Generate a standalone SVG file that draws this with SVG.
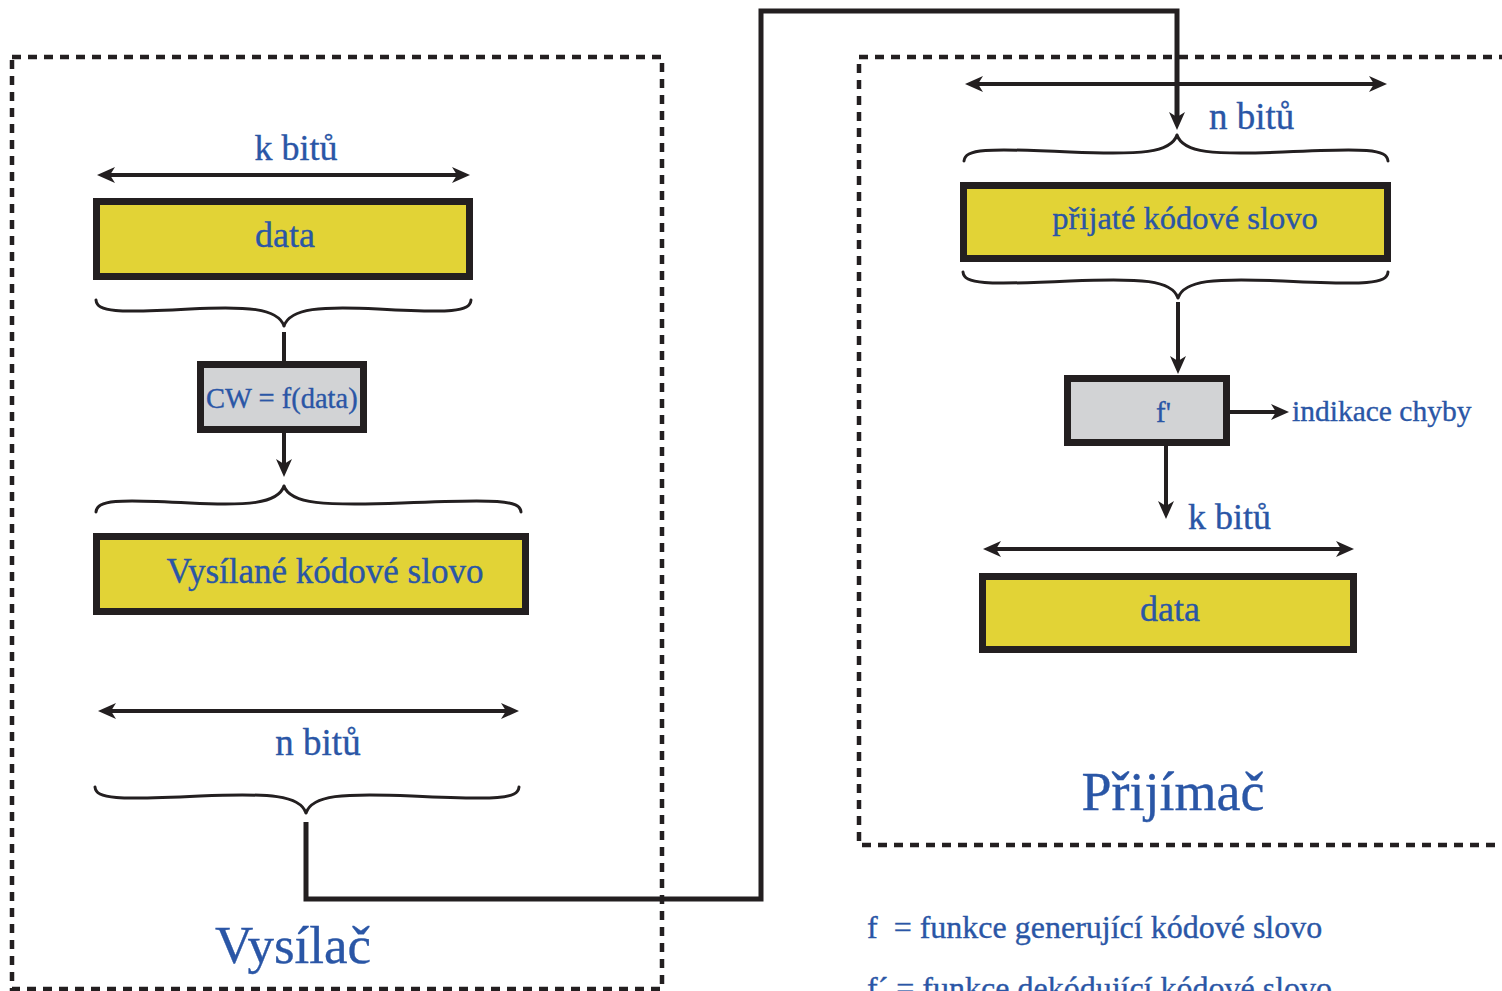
<svg xmlns="http://www.w3.org/2000/svg" width="1502" height="991" viewBox="0 0 1502 991">
  <style>
    .frame { fill: none; stroke: #231f20; stroke-width: 4.5; stroke-dasharray: 9 7; }
    .box-y { fill: #e2d336; stroke: #231f20; stroke-width: 7; }
    .box-g { fill: #d2d3d5; stroke: #231f20; stroke-width: 7; }
    .ln { fill: none; stroke: #231f20; stroke-width: 4; }
    .wire { fill: none; stroke: #231f20; stroke-width: 5; }
    .brace { fill: none; stroke: #231f20; stroke-width: 3; stroke-linecap: round; }
    .t { font-family: "Liberation Serif", "DejaVu Serif", serif; fill: #2a56a6; stroke: #2a56a6; stroke-width: 0.35; }
    .c { text-anchor: middle; }
  </style>
  <defs>
    <marker id="ah" viewBox="0 0 18 16" refX="9" refY="8" markerWidth="18" markerHeight="16" markerUnits="userSpaceOnUse" orient="auto-start-reverse">
      <path d="M0,0 L18,8 L0,16 L5,8 z" fill="#231f20"/>
    </marker>
  </defs>

  <rect width="1502" height="991" fill="#ffffff"/>

  <!-- dashed frames -->
  <g id="vysilac-frame">
    <rect class="frame" x="12" y="57" width="650" height="932"/>
    <text class="t c" x="293" y="963" font-size="53">Vysílač</text>
  </g>
  <g id="prijimac-frame">
    <rect class="frame" x="859" y="57" width="700" height="788"/>
    <text class="t c" x="1173" y="810" font-size="54">Přijímač</text>
  </g>

  <!-- sender nodes -->
  <g id="tx-data">
    <rect class="box-y" x="96.5" y="201.5" width="373" height="75"/>
    <text class="t c" x="285" y="247" font-size="36">data</text>
  </g>
  <g id="tx-f">
    <rect class="box-g" x="200.5" y="364.5" width="163" height="65"/>
    <text class="t" x="206" y="408" font-size="28.5">CW = f(data)</text>
  </g>
  <g id="tx-codeword">
    <rect class="box-y" x="96.5" y="536.5" width="429" height="75"/>
    <text class="t c" x="325" y="583" font-size="35">Vysílané kódové slovo</text>
  </g>

  <!-- receiver nodes -->
  <g id="rx-codeword">
    <rect class="box-y" x="963.5" y="185.5" width="424" height="73"/>
    <text class="t c" x="1185" y="229" font-size="32.5">přijaté kódové slovo</text>
  </g>
  <g id="rx-f">
    <rect class="box-g" x="1067.5" y="378.5" width="159" height="64"/>
    <text class="t" x="1156" y="422" font-size="29">f'</text>
  </g>
  <g id="rx-data">
    <rect class="box-y" x="982.5" y="576.5" width="371" height="73"/>
    <text class="t c" x="1170" y="621" font-size="36">data</text>
  </g>

  <!-- width labels and braces -->
  <g id="dimensions">
    <line class="ln" x1="106" y1="175" x2="461" y2="175" marker-start="url(#ah)" marker-end="url(#ah)"/>
    <text class="t c" x="296" y="160" font-size="36">k bitů</text>

    <path class="brace" d="M96,300 C97,312 116,313 190,309 C246,306 278,308 284,326 M471,300 C470,312 451,313 378,309 C322,306 290,308 284,326"/>

    <path class="brace" transform="matrix(1 0 0 -1 0 997)" d="M96,485 C97,497 116,498 190,494 C246,491 278,493 284,511 M521,485 C520,497 498,498 402,494 C324,491 290,493 284,511"/>

    <line class="ln" x1="107" y1="711" x2="510" y2="711" marker-start="url(#ah)" marker-end="url(#ah)"/>
    <text class="t c" x="318" y="755" font-size="37">n bitů</text>
    <path class="brace" d="M95,787 C96,799 116,800 200,796 C270,793 300,795 306,813 M519,787 C518,799 498,800 412,796 C342,793 312,795 306,813"/>

    <line class="ln" x1="974" y1="84" x2="1378" y2="84" marker-start="url(#ah)" marker-end="url(#ah)"/>
    <text class="t" x="1209" y="129" font-size="37">n bitů</text>
    <path class="brace" transform="matrix(1 0 0 -1 0 296)" d="M964,135 C965,147 985,148 1070,144 C1141,141 1171,143 1177,161 M1388,135 C1387,147 1367,148 1283,144 C1213,141 1183,143 1177,161"/>

    <path class="brace" d="M963,272 C964,284 984,285 1070,281 C1142,278 1172,280 1178,298 M1388,272 C1387,284 1367,285 1283,281 C1214,278 1184,280 1178,298"/>

    <line class="ln" x1="992" y1="549" x2="1345" y2="549" marker-start="url(#ah)" marker-end="url(#ah)"/>
    <text class="t" x="1188" y="529" font-size="36">k bitů</text>
  </g>

  <!-- connectors -->
  <g id="connectors">
    <line class="ln" x1="284" y1="332" x2="284" y2="364"/>
    <line class="ln" x1="284" y1="432" x2="284" y2="468" marker-end="url(#ah)"/>
    <path class="wire" d="M306,822 V899 H761 V11 H1177 V121" marker-end="url(#ah)"/>
    <line class="ln" x1="1178" y1="302" x2="1178" y2="365" marker-end="url(#ah)"/>
    <line class="ln" x1="1230" y1="412" x2="1280" y2="412" marker-end="url(#ah)"/>
    <line class="ln" x1="1166" y1="446" x2="1166" y2="510" marker-end="url(#ah)"/>
    <text class="t" x="1292" y="421" font-size="29.5">indikace chyby</text>
  </g>

  <!-- legend -->
  <g id="legend">
    <text class="t" x="867" y="938" font-size="32" xml:space="preserve">f  = funkce generující kódové slovo</text>
    <text class="t" x="867" y="999" font-size="32">f´ = funkce dekódující kódové slovo</text>
  </g>
</svg>
